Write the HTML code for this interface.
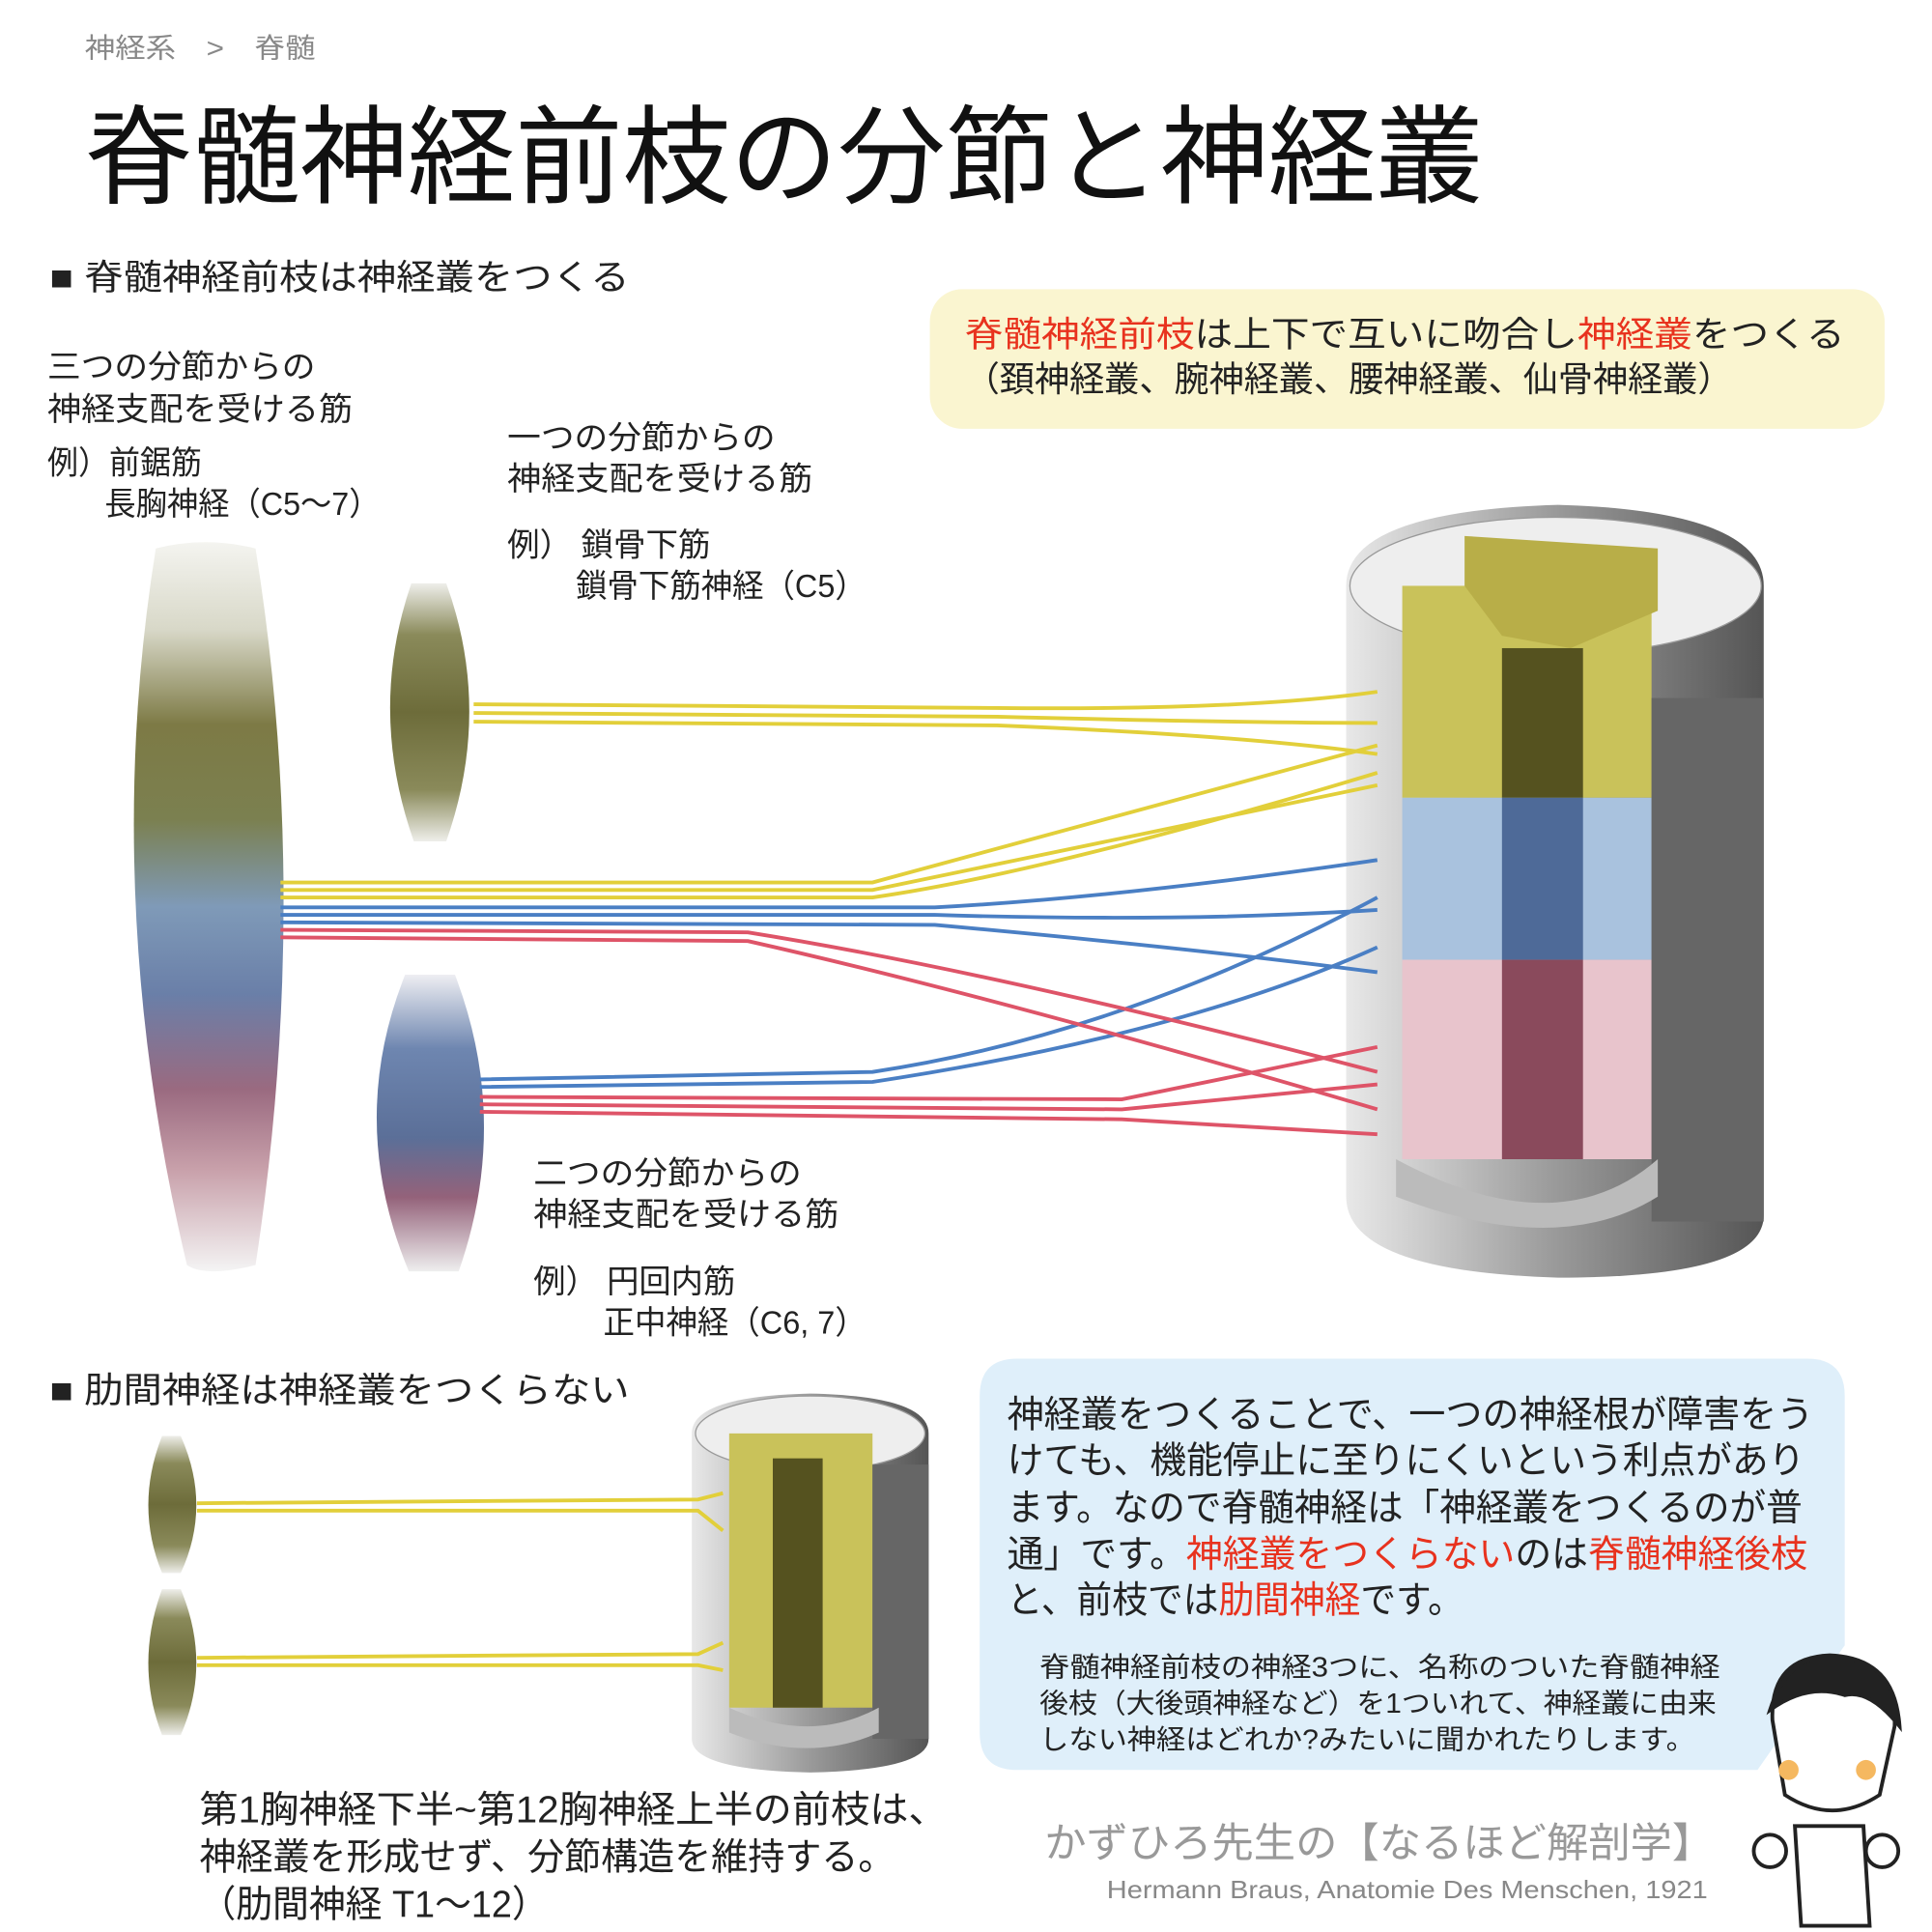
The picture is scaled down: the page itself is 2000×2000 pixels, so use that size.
<!DOCTYPE html>
<html><head><meta charset="utf-8"><style>
html,body{margin:0;padding:0;background:#fff}
svg{display:block}
text{font-family:"Liberation Sans","Noto Sans CJK JP",sans-serif}
</style></head><body>
<svg width="2000" height="2000" viewBox="0 0 1550 1550" xmlns="http://www.w3.org/2000/svg">
<defs>
<linearGradient id="big" x1="0" y1="0" x2="0" y2="1">
<stop offset="0" stop-color="#f4f4f0"/><stop offset="0.12" stop-color="#d8d8c8"/>
<stop offset="0.25" stop-color="#7d7a45"/><stop offset="0.38" stop-color="#7b8050"/>
<stop offset="0.5" stop-color="#7f9ab8"/><stop offset="0.62" stop-color="#6a7fa8"/>
<stop offset="0.75" stop-color="#9a6a80"/><stop offset="0.86" stop-color="#c8a0aa"/>
<stop offset="1" stop-color="#f4f4f4"/></linearGradient>
<linearGradient id="olive" x1="0" y1="0" x2="0" y2="1">
<stop offset="0" stop-color="#eeeeea"/><stop offset="0.2" stop-color="#8a8a5a"/>
<stop offset="0.5" stop-color="#6d6c3a"/><stop offset="0.8" stop-color="#8a8a5a"/><stop offset="1" stop-color="#eeeeea"/></linearGradient>
<linearGradient id="bp" x1="0" y1="0" x2="0" y2="1">
<stop offset="0" stop-color="#eeeef2"/><stop offset="0.25" stop-color="#6e86b0"/>
<stop offset="0.55" stop-color="#5b6f98"/><stop offset="0.75" stop-color="#94627a"/><stop offset="1" stop-color="#eeeeee"/></linearGradient>
<linearGradient id="cyl" x1="0" y1="0" x2="1" y2="0">
<stop offset="0" stop-color="#e8e8e8"/><stop offset="0.5" stop-color="#9a9a9a"/><stop offset="1" stop-color="#555"/></linearGradient>
</defs>

<!-- header -->
<text x="68" y="46" font-size="22" fill="#888" textLength="185" lengthAdjust="spacingAndGlyphs">神経系　&gt;　脊髄</text>
<text x="68" y="156" font-size="86" fill="#111" textLength="1122" lengthAdjust="spacingAndGlyphs">脊髄神経前枝の分節と神経叢</text>
<text x="40" y="232" font-size="28" fill="#222" textLength="465" lengthAdjust="spacingAndGlyphs">■ 脊髄神経前枝は神経叢をつくる</text>

<rect x="746" y="232" width="766" height="112" rx="26" fill="#faf5d0"/>
<text x="774" y="278" font-size="28" fill="#222" textLength="706" lengthAdjust="spacingAndGlyphs"><tspan fill="#e8321e">脊髄神経前枝</tspan>は上下で互いに吻合し<tspan fill="#e8321e">神経叢</tspan>をつくる</text>
<text x="774" y="314" font-size="28" fill="#222" textLength="616" lengthAdjust="spacingAndGlyphs">（頚神経叢、腕神経叢、腰神経叢、仙骨神経叢）</text>

<g font-size="26" fill="#222">
<text x="38" y="303" textLength="215" lengthAdjust="spacingAndGlyphs">三つの分節からの</text>
<text x="38" y="337" textLength="245" lengthAdjust="spacingAndGlyphs">神経支配を受ける筋</text>
<text x="38" y="380" textLength="124" lengthAdjust="spacingAndGlyphs">例）前鋸筋</text>
<text x="84" y="413" textLength="221" lengthAdjust="spacingAndGlyphs">長胸神経（C5〜7）</text>
<text x="407" y="360" textLength="215" lengthAdjust="spacingAndGlyphs">一つの分節からの</text>
<text x="407" y="393" textLength="245" lengthAdjust="spacingAndGlyphs">神経支配を受ける筋</text>
<text x="407" y="446" textLength="163" lengthAdjust="spacingAndGlyphs">例） 鎖骨下筋</text>
<text x="462" y="479" textLength="233" lengthAdjust="spacingAndGlyphs">鎖骨下筋神経（C5）</text>
<text x="428" y="950" textLength="215" lengthAdjust="spacingAndGlyphs">二つの分節からの</text>
<text x="428" y="983" textLength="245" lengthAdjust="spacingAndGlyphs">神経支配を受ける筋</text>
<text x="428" y="1037" textLength="162" lengthAdjust="spacingAndGlyphs">例） 円回内筋</text>
<text x="484" y="1070" textLength="211" lengthAdjust="spacingAndGlyphs">正中神経（C6, 7）</text>
</g>
<text x="40" y="1125" font-size="28" fill="#222" textLength="465" lengthAdjust="spacingAndGlyphs">■ 肋間神経は神経叢をつくらない</text>

<!-- muscles -->
<path d="M125 440 Q165 430 205 440 Q250 720 205 1015 Q165 1025 150 1015 Q80 720 125 440Z" fill="url(#big)"/>
<path d="M330 468 L358 468 Q395 570 358 675 L332 675 Q295 570 330 468Z" fill="url(#olive)"/>
<path d="M325 782 L365 782 Q410 900 368 1020 L328 1020 Q278 900 325 782Z" fill="url(#bp)"/>
<path d="M130 1152 L145 1152 Q170 1208 145 1262 L130 1262 Q108 1208 130 1152Z" fill="url(#olive)"/>
<path d="M130 1275 L145 1275 Q170 1335 145 1392 L130 1392 Q108 1335 130 1275Z" fill="url(#olive)"/>

<!-- big cord -->
<path d="M1080 470 Q1080 410 1250 405 Q1415 410 1415 470 L1415 975 Q1415 1025 1250 1025 Q1080 1020 1080 960Z" fill="url(#cyl)"/>
<ellipse cx="1248" cy="470" rx="165" ry="55" fill="#eee" stroke="#999"/>
<rect x="1125" y="470" width="200" height="170" fill="#c9c25a"/>
<rect x="1125" y="640" width="200" height="130" fill="#a9c2de"/>
<rect x="1125" y="770" width="200" height="160" fill="#e8c4cc"/>
<rect x="1205" y="520" width="65" height="120" fill="#55521f"/>
<rect x="1205" y="640" width="65" height="130" fill="#4e6a98"/>
<rect x="1205" y="770" width="65" height="160" fill="#8a4a5c"/>
<path d="M1175 430 L1330 440 L1330 490 L1260 520 L1205 510 L1175 470Z" fill="#b8ae48"/>
<rect x="1325" y="560" width="90" height="420" fill="#666"/>
<path d="M1120 930 Q1250 1000 1330 930 L1330 960 Q1250 1010 1120 960Z" fill="#bbb"/>

<!-- small cord -->
<path d="M555 1150 Q555 1120 650 1118 Q745 1120 745 1150 L745 1395 Q745 1420 650 1422 Q555 1420 555 1395Z" fill="url(#cyl)"/>
<ellipse cx="650" cy="1150" rx="92" ry="30" fill="#eee" stroke="#999"/>
<rect x="585" y="1150" width="115" height="220" fill="#c9c25a"/>
<rect x="620" y="1170" width="40" height="200" fill="#55521f"/>
<rect x="700" y="1175" width="45" height="220" fill="#666"/>
<path d="M585 1370 Q650 1400 705 1370 L705 1390 Q650 1415 585 1390Z" fill="#bbb"/>

<!-- nerves -->
<g fill="none" stroke-width="3">
<g stroke="#e2cf3a">
<path d="M380 565 L800 568 Q1000 570 1105 555"/><path d="M380 572 L800 575 Q1000 580 1105 580"/><path d="M380 579 L800 582 Q1000 590 1105 605"/>
<path d="M225 708 L700 708 Q800 680 1105 598"/><path d="M225 714 L700 714 Q820 690 1105 630"/><path d="M225 720 L700 720 Q840 700 1105 620"/>
<path d="M158 1206 L560 1203 L580 1198"/><path d="M158 1212 L560 1212 L580 1228"/>
<path d="M158 1330 L560 1327 L580 1318"/><path d="M158 1336 L560 1336 L580 1340"/>
</g>
<g stroke="#4a7fc4">
<path d="M225 728 L750 728 Q900 720 1105 690"/><path d="M225 734 L750 734 Q950 740 1105 730"/><path d="M225 740 L750 742 Q950 760 1105 780"/>
<path d="M385 866 L700 860 Q900 830 1105 720"/><path d="M385 872 L700 868 Q950 830 1105 760"/>
</g>
<g stroke="#de5468">
<path d="M225 746 L600 748 Q800 780 1105 860"/><path d="M225 752 L600 755 Q800 800 1105 890"/>
<path d="M385 880 L900 882 L1105 840"/><path d="M385 886 L900 890 L1105 870"/><path d="M385 892 L900 898 L1105 910"/>
</g>
</g>

<!-- blue note box -->
<path d="M816 1090 L1450 1090 Q1480 1090 1480 1120 L1480 1320 L1410 1420 L816 1420 Q786 1420 786 1390 L786 1120 Q786 1090 816 1090Z" fill="#dfeffa"/>
<g font-size="30" fill="#222">
<text x="808" y="1145" textLength="647" lengthAdjust="spacingAndGlyphs">神経叢をつくることで、一つの神経根が障害をう</text>
<text x="808" y="1182" textLength="640" lengthAdjust="spacingAndGlyphs">けても、機能停止に至りにくいという利点があり</text>
<text x="808" y="1220" textLength="638" lengthAdjust="spacingAndGlyphs">ます。なので脊髄神経は「神経叢をつくるのが普</text>
<text x="808" y="1257" textLength="642" lengthAdjust="spacingAndGlyphs">通」です。<tspan fill="#e8321e">神経叢をつくらない</tspan>のは<tspan fill="#e8321e">脊髄神経後枝</tspan></text>
<text x="808" y="1294" textLength="366" lengthAdjust="spacingAndGlyphs">と、前枝では<tspan fill="#e8321e">肋間神経</tspan>です。</text>
</g>
<g font-size="22" fill="#222">
<text x="834" y="1345" textLength="546" lengthAdjust="spacingAndGlyphs">脊髄神経前枝の神経3つに、名称のついた脊髄神経</text>
<text x="834" y="1374" textLength="543" lengthAdjust="spacingAndGlyphs">後枝（大後頭神経など）を1ついれて、神経叢に由来</text>
<text x="834" y="1403" textLength="526" lengthAdjust="spacingAndGlyphs">しない神経はどれか?みたいに聞かれたりします。</text>
</g>

<g font-size="30" fill="#222">
<text x="160" y="1462" textLength="600" lengthAdjust="spacingAndGlyphs">第1胸神経下半~第12胸神経上半の前枝は、</text>
<text x="160" y="1500" textLength="558" lengthAdjust="spacingAndGlyphs">神経叢を形成せず、分節構造を維持する。</text>
<text x="160" y="1538" textLength="280" lengthAdjust="spacingAndGlyphs">（肋間神経 T1〜12）</text>
</g>
<text x="838" y="1490" font-size="33" fill="#999" textLength="537" lengthAdjust="spacingAndGlyphs">かずひろ先生の【なるほど解剖学】</text>
<text x="888" y="1523" font-size="20" fill="#888" textLength="482" lengthAdjust="spacingAndGlyphs">Hermann Braus, Anatomie Des Menschen, 1921</text>

<!-- doctor -->
<g stroke="#222" stroke-width="3" fill="#fff">
<path d="M1422 1380 Q1420 1330 1468 1328 Q1522 1330 1520 1385 L1508 1440 Q1470 1465 1432 1440Z"/>
<path d="M1420 1372 Q1435 1325 1472 1330 Q1520 1330 1524 1385 Q1500 1355 1480 1360 Q1450 1350 1420 1372Z" fill="#222"/>
<path d="M1440 1465 L1495 1465 L1500 1545 L1445 1545Z"/>
<circle cx="1420" cy="1485" r="13"/><circle cx="1510" cy="1485" r="13"/>
</g>
<circle cx="1435" cy="1420" r="8" fill="#f5b860"/><circle cx="1497" cy="1420" r="8" fill="#f5b860"/>
</svg>
</body></html>
